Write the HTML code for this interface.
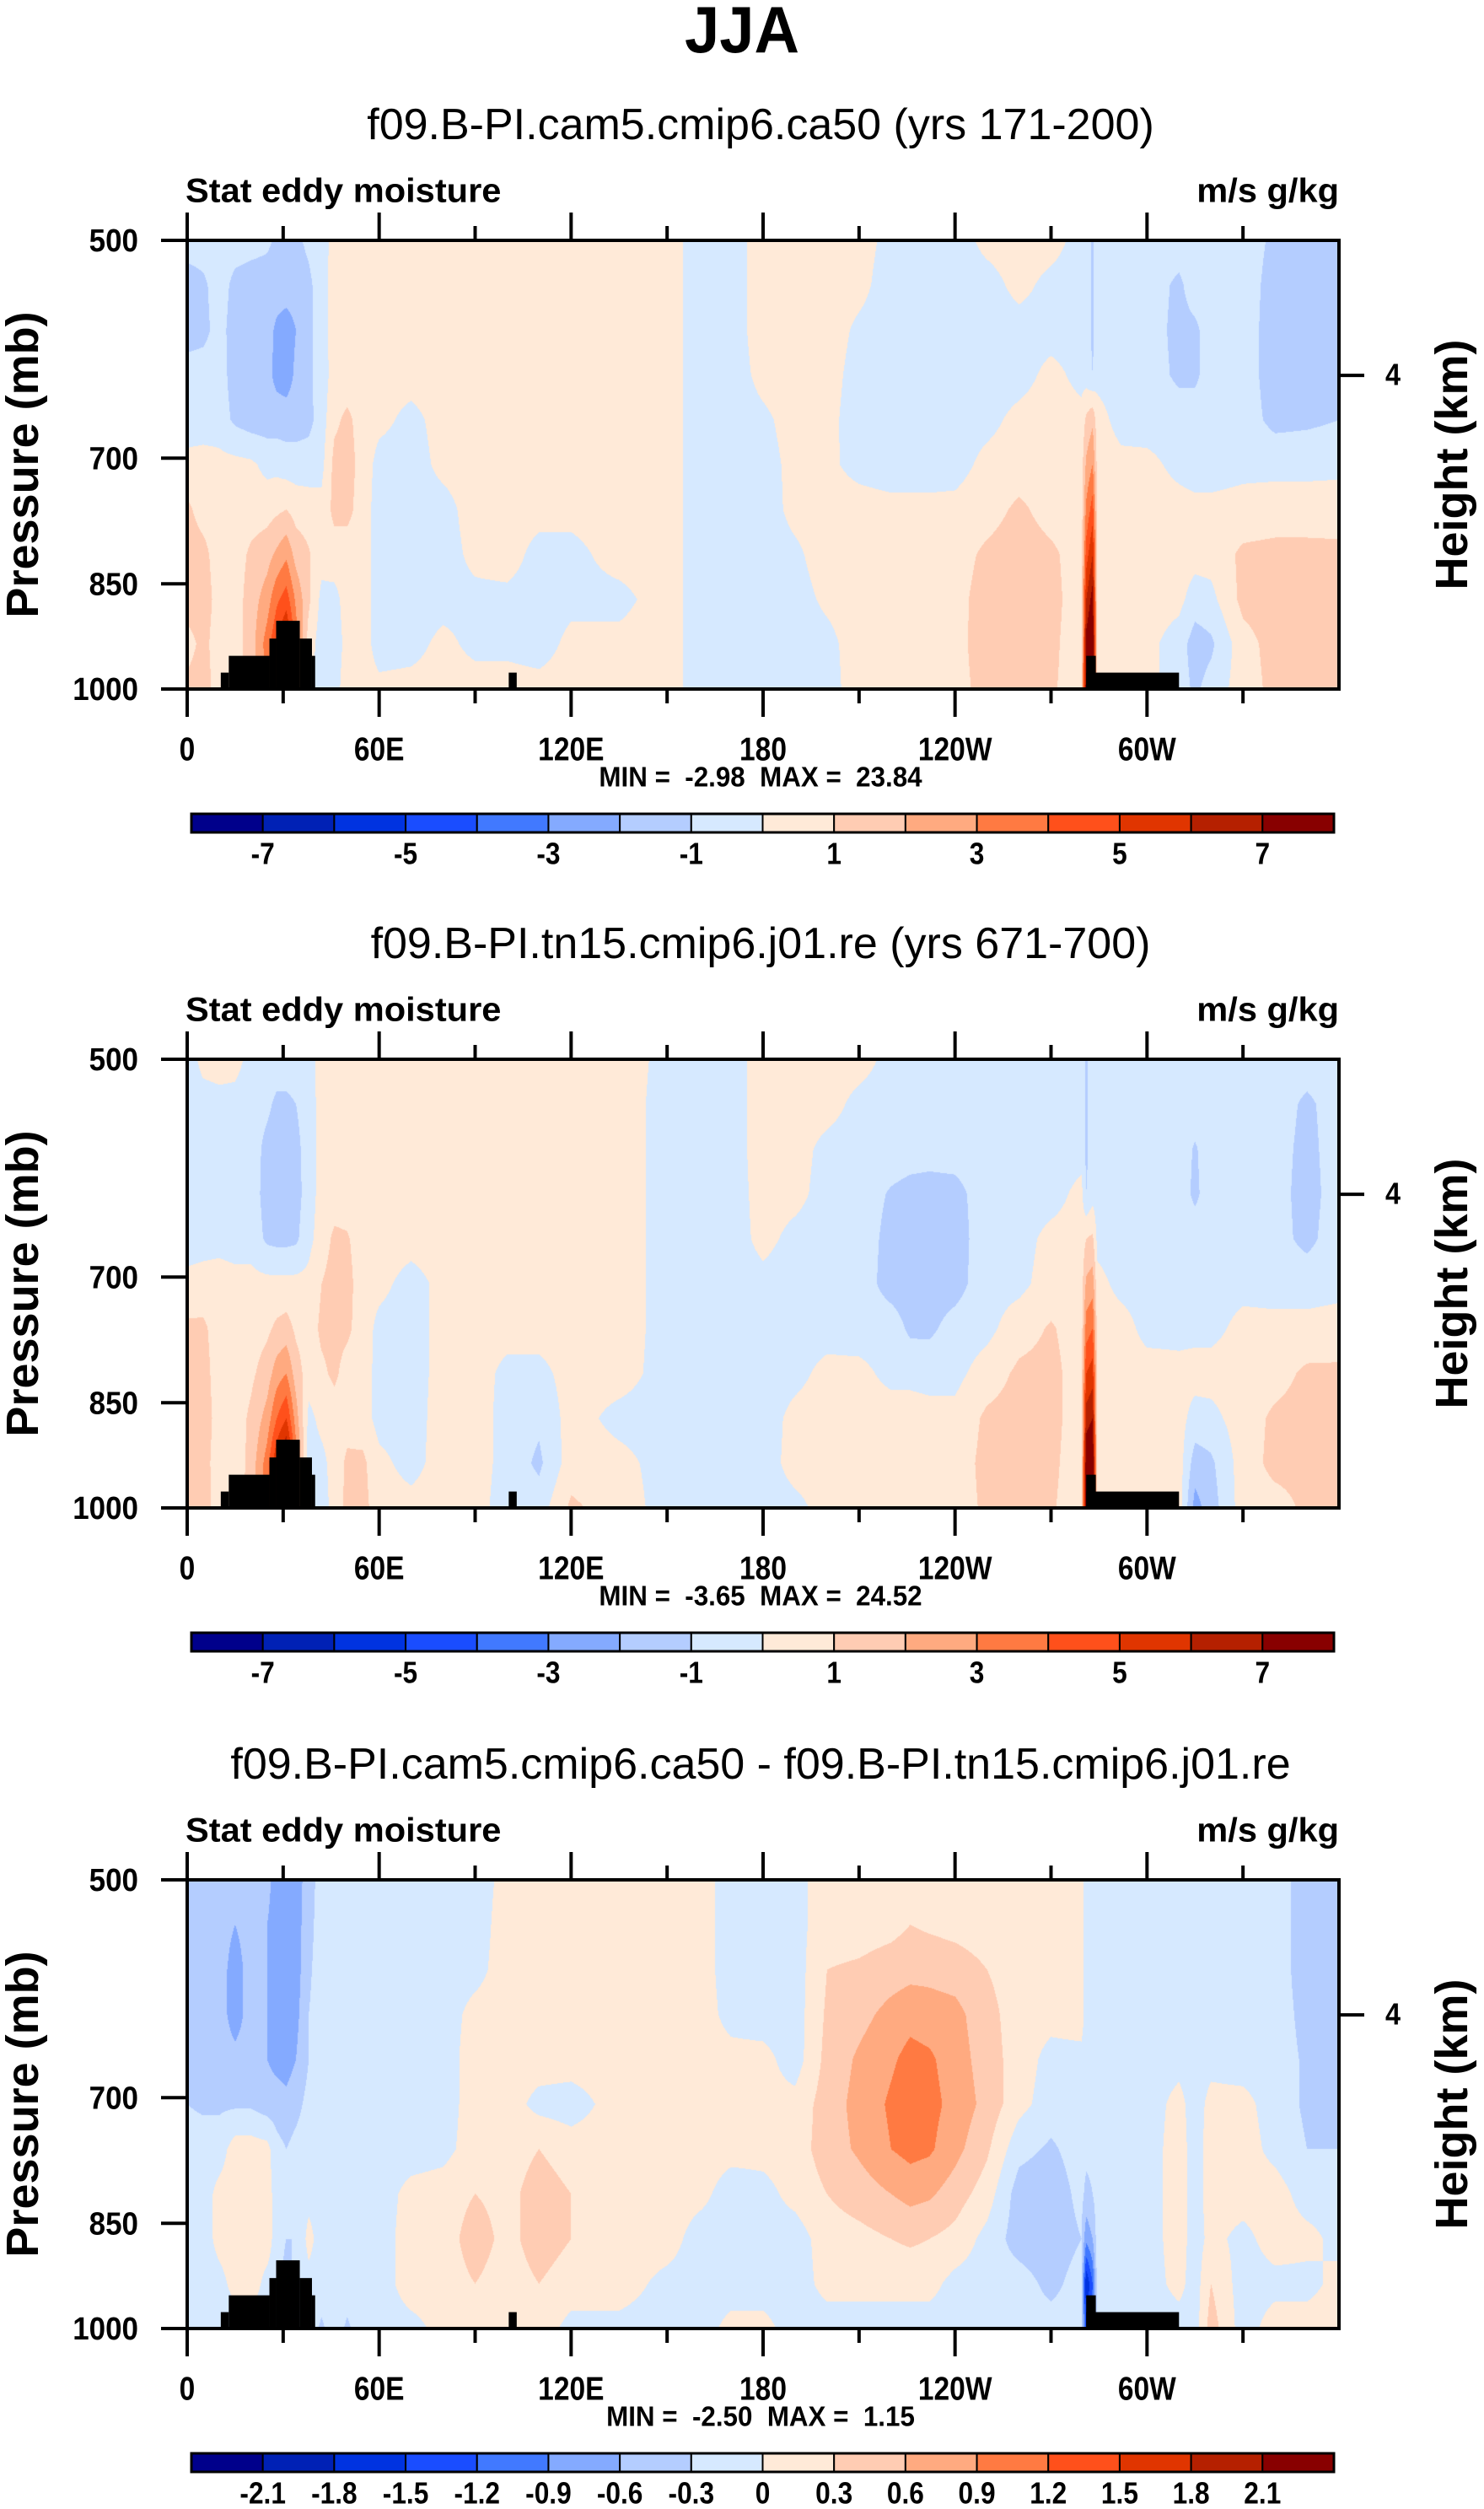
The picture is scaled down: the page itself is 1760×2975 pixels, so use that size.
<!DOCTYPE html>
<html><head><meta charset="utf-8">
<style>
html,body{margin:0;padding:0;background:#fff;}
#wrap{position:relative;width:1760px;height:2975px;overflow:hidden;background:#fff;}
canvas{position:absolute;}
svg{position:absolute;left:0;top:0;}
text{font-family:"Liberation Sans",sans-serif;fill:#000;}
</style></head>
<body>
<div id="wrap">
<svg id="svg" width="1760" height="2975"></svg>
</div>
<script>
// ---------------- data ----------------
const lons = [0,5,10,15,20,25,28,31,34,38,42,46,50,55,60,70,80,90,100,110,120,135,150,160,170,180,190,200,210,220,226,232,240,250,260,270,279.5,281,283,284.5,292,300,310,315,320,330,340,350,360];
const levelFrac = [0,0.1,0.2,0.3,0.4,0.5,0.6,0.7,0.8,0.9,1.0];
const xTickLabels = ["0","60E","120E","180","120W","60W"];
const pTicks = [500,700,850,1000];
const heightTicks = [4];
const heightTickP = [616];
const topoStart = [10.5,13,25.7,27.8,35.2,39,100.5,281,281];
const topoEnd   = [13,25.7,27.8,35.2,39,40,103,284,310];
const topoTopP  = [975,950,925,900,925,950,975,950,975];
const cbLabels1 = ["-7","","-5","","-3","","-1","","1","","3","","5","","7"];
const cbLabels3 = ["-2.1","-1.8","-1.5","-1.2","-0.9","-0.6","-0.3","0","0.3","0.6","0.9","1.2","1.5","1.8","2.1"];
const levels1 = [-7,-6,-5,-4,-3,-2,-1,0,1,2,3,4,5,6,7];
const levels3 = [-2.1,-1.8,-1.5,-1.2,-0.9,-0.6,-0.3,0,0.3,0.6,0.9,1.2,1.5,1.8,2.1];
const titles = ["f09.B-PI.cam5.cmip6.ca50 (yrs 171-200)","f09.B-PI.tn15.cmip6.j01.re (yrs 671-700)","f09.B-PI.cam5.cmip6.ca50 - f09.B-PI.tn15.cmip6.j01.re"];
const minVals = ["-2.98","-3.65","-2.50"];
const maxVals = ["23.84","24.52","1.15"];

const field1 = [
[-0.5,-1.5,-1.5,-0.5,-0.5,0.3,1.2,1.5,1.5,0.6,1.3],
[-0.5,-1.2,-1.3,-0.5,-0.5,0.4,0.6,1.3,1.5,1.3,1.5],
[-0.5,-0.5,-0.6,-0.5,-0.5,0.3,0.5,0.5,0.6,0.5,0.5],
[-0.5,-1.3,-1.5,-1.5,-1.2,0.3,0.5,0.5,0.5,0.5,0.5],
[-0.6,-1.5,-1.5,-1.5,-1.5,0.2,0.5,1.2,1.5,1.5,1.5],
[-0.8,-1.5,-1.6,-1.7,-1.5,-0.3,0.6,1.6,2.5,3.5,3],
[-1.2,-1.5,-2.2,-2.3,-1.5,-0.3,0.8,2.2,3.8,5,5],
[-1.2,-1.5,-2.5,-2.5,-1.5,-0.5,1.0,2.8,4.5,6.5,6.5],
[-1.2,-1.5,-2.0,-1.8,-1.5,-0.5,0.6,1.6,2.8,3.5,3.5],
[-0.8,-1.2,-1.2,-1.2,-1.3,-0.5,0.5,1.1,1.2,0.5,0.3],
[-0.5,-0.5,-0.5,-0.5,-0.5,-0.3,0.3,0.4,-0.3,-0.5,-0.5],
[0.4,0.5,0.5,0.4,0.8,1.3,1.3,0.5,-0.3,-0.5,-0.4],
[0.5,0.5,0.5,0.5,1.2,1.4,1.3,0.5,0.4,0.3,0.5],
[0.5,0.5,0.5,0.5,0.6,0.6,0.5,0.5,0.5,0.5,0.5],
[0.5,0.5,0.5,0.4,0.3,-0.4,-0.5,-0.5,-0.5,-0.5,0.3],
[0.5,0.5,0.5,0.4,-0.3,-0.5,-0.5,-0.5,-0.5,-0.4,0.4],
[0.5,0.5,0.5,0.5,0.4,0.3,-0.4,-0.5,-0.4,0.3,0.5],
[0.5,0.5,0.5,0.5,0.5,0.5,0.5,0.3,-0.3,-0.3,0.5],
[0.5,0.5,0.5,0.5,0.5,0.5,0.5,0.5,-0.3,-0.3,0.5],
[0.5,0.5,0.5,0.5,0.5,0.5,0.4,-0.4,-0.5,-0.5,0.4],
[0.5,0.5,0.5,0.5,0.5,0.5,0.3,-0.3,-0.3,0.3,0.5],
[0.5,0.5,0.5,0.5,0.5,0.5,0.5,0.4,-0.3,0.3,0.5],
[0.5,0.5,0.5,0.5,0.5,0.5,0.5,0.5,0.5,0.5,0.5],
[-0.5,-0.5,-0.5,-0.5,-0.5,-0.5,-0.5,-0.5,-0.5,-0.5,-0.5],
[-0.5,-0.5,-0.5,-0.5,-0.5,-0.5,-0.5,-0.5,-0.5,-0.5,-0.5],
[0.5,0.5,0.5,0.3,-0.2,-0.4,-0.5,-0.5,-0.5,-0.5,-0.5],
[0.5,0.5,0.5,0.5,0.4,0.3,0.3,-0.2,-0.4,-0.5,-0.5],
[0.5,0.5,0.5,0.4,0.3,0.2,0.4,0.5,0.2,-0.3,-0.4],
[0.4,0.3,-0.2,-0.4,-0.5,-0.3,0.4,0.5,0.5,0.5,0.5],
[-0.3,-0.5,-0.5,-0.5,-0.5,-0.5,0.3,0.5,0.5,0.5,0.5],
[-0.5,-0.5,-0.5,-0.5,-0.5,-0.5,0.3,0.5,0.5,0.5,0.5],
[-0.5,-0.5,-0.5,-0.5,-0.5,-0.5,0.3,0.5,0.5,0.5,0.5],
[-0.5,-0.5,-0.5,-0.5,-0.5,-0.4,0.3,0.6,0.7,0.8,0.8],
[0.3,-0.4,-0.5,-0.5,-0.3,0.3,0.6,1.2,1.4,1.3,1.2],
[0.5,0.3,-0.4,-0.4,0.3,0.5,1.2,1.5,1.6,1.5,1.3],
[0.4,-0.3,-0.4,0.3,0.5,0.5,0.6,1.2,1.3,1.2,1.1],
[-0.4,-0.5,-0.4,-0.3,0.3,0.5,0.5,0.5,0.5,0.5,0.6],
[-0.5,-0.5,-0.5,-0.5,1.2,2.2,3.2,4.5,6,7.5,8],
[-1.2,-1.2,-1.2,-1.0,1.8,3,4.5,6,7.5,8.5,9],
[-0.5,-0.5,-0.5,-0.3,0.4,0.6,0.6,0.5,0.5,0.5,0.5],
[-0.5,-0.5,-0.5,-0.5,-0.4,0.3,0.4,0.5,0.5,0.5,0.5],
[-0.5,-0.5,-0.5,-0.5,-0.5,0.3,0.5,0.5,0.5,0.3,0.3],
[-0.5,-1.2,-1.3,-1.2,-0.5,-0.3,0.4,0.5,0.3,-0.5,-0.5],
[-0.5,-0.5,-1.2,-1.2,-0.5,-0.5,0.3,0.4,-0.5,-1.5,-1.2],
[-0.5,-0.5,-0.5,-0.5,-0.5,-0.5,0.3,0.4,-0.3,-1.2,-0.6],
[-0.5,-0.5,-0.5,-0.5,-0.5,-0.3,0.4,1.2,1.3,0.6,0.5],
[-1.2,-1.4,-1.5,-1.5,-1.3,-0.3,0.5,1.3,1.5,1.4,1.3],
[-1.5,-1.5,-1.5,-1.5,-1.2,-0.3,0.5,1.3,1.5,1.5,1.4],
[-1.4,-1.5,-1.5,-1.4,-1.0,-0.3,0.6,1.2,1.4,1.4,1.3]
];
const field2 = [
[-0.5,-0.5,-0.5,-0.5,-0.5,0.3,1.2,1.5,1.5,1.5,1.5],
[0.3,-0.4,-0.5,-0.5,-0.4,0.4,1.2,1.4,1.5,1.4,1.5],
[0.4,-0.3,-0.5,-0.5,-0.3,0.4,0.5,0.5,0.6,0.5,0.5],
[0.3,-0.3,-0.5,-0.5,-0.4,0.3,0.5,0.5,0.5,0.3,0.5],
[-0.3,-0.5,-0.5,-0.5,-0.4,0.3,0.5,0.8,1.2,1.4,1.5],
[-0.5,-0.8,-1.3,-1.4,-1.2,0.3,0.8,1.5,2.4,3.5,3.5],
[-0.5,-1.2,-1.5,-1.5,-1.3,0.3,1.2,2.5,4,6,6],
[-0.5,-1.2,-1.5,-1.5,-1.3,0.3,1.4,3,5,7.5,7.5],
[-0.5,-1.0,-1.3,-1.4,-1.2,0.3,0.8,1.5,2.5,3.5,3.5],
[-0.4,-0.5,-0.5,-0.5,-0.3,0.3,0.5,0.5,-0.3,-0.5,-0.5],
[0.4,0.4,0.4,0.4,0.5,1.0,1.2,0.8,0.3,-0.3,-0.4],
[0.5,0.5,0.5,0.5,1.2,1.4,1.3,1.2,0.5,0.4,0.3],
[0.5,0.5,0.5,0.5,1.1,1.3,1.2,0.6,0.6,1.2,1.3],
[0.5,0.5,0.5,0.5,0.5,0.5,0.5,0.5,0.5,1.2,1.3],
[0.5,0.5,0.5,0.5,0.5,0.3,-0.3,-0.4,-0.4,0.3,0.5],
[0.5,0.5,0.5,0.5,0.4,-0.4,-0.5,-0.5,-0.5,-0.4,0.4],
[0.5,0.5,0.5,0.5,0.5,0.3,0.4,0.4,0.5,0.5,0.5],
[0.5,0.5,0.5,0.5,0.5,0.5,0.5,0.5,0.5,0.5,0.4],
[0.5,0.5,0.5,0.5,0.5,0.5,0.4,-0.3,-0.4,-0.4,-0.5],
[0.5,0.5,0.5,0.5,0.5,0.5,0.4,-0.3,-0.8,-1.2,-0.5],
[0.5,0.5,0.5,0.5,0.5,0.5,0.5,0.4,0.4,0.5,1.2],
[0.5,0.5,0.5,0.5,0.5,0.5,0.5,0.4,-0.3,0.3,0.5],
[-0.3,-0.4,-0.4,-0.4,-0.4,-0.4,-0.4,-0.4,-0.4,-0.4,-0.4],
[-0.5,-0.5,-0.5,-0.5,-0.5,-0.5,-0.5,-0.5,-0.5,-0.5,-0.5],
[-0.5,-0.5,-0.5,-0.5,-0.5,-0.5,-0.5,-0.5,-0.5,-0.5,-0.5],
[0.5,0.5,0.5,0.4,0.3,-0.3,-0.5,-0.5,-0.5,-0.5,-0.5],
[0.5,0.5,0.4,0.3,-0.3,-0.5,-0.4,-0.3,0.3,0.4,-0.3],
[0.5,0.4,-0.3,-0.4,-0.5,-0.5,-0.4,0.3,0.5,0.5,0.4],
[0.4,-0.3,-0.5,-0.5,-0.5,-0.5,-0.5,0.3,0.5,0.5,0.5],
[-0.3,-0.5,-0.5,-1.1,-1.3,-1.4,-0.5,-0.3,0.5,0.5,0.5],
[-0.3,-0.5,-0.6,-1.3,-1.5,-1.5,-1.2,-0.3,0.5,0.5,0.5],
[-0.3,-0.5,-0.6,-1.4,-1.5,-1.5,-1.2,-0.4,0.4,0.5,0.5],
[-0.3,-0.5,-0.6,-1.3,-1.4,-1.4,-0.6,-0.3,0.3,0.5,0.5],
[-0.5,-0.5,-0.5,-0.5,-0.5,-0.4,-0.3,0.5,1.2,1.3,1.2],
[-0.5,-0.5,-0.5,-0.5,-0.4,-0.3,0.6,1.2,1.4,1.4,1.3],
[-0.4,-0.5,-0.5,-0.4,0.3,0.5,1.1,1.3,1.3,1.2,1.1],
[-0.5,-0.5,-0.4,0.3,0.4,0.5,0.5,0.5,0.5,0.5,0.5],
[-1.2,-1.2,-1.2,-1.0,1.0,2.2,3.5,5,6.5,8,8],
[-0.5,-0.5,-0.5,-0.4,1.2,2.5,4,5.5,7,8.5,9],
[-0.5,-0.5,-0.5,-0.5,-0.3,0.3,0.5,0.5,0.5,0.5,0.5],
[-0.5,-0.5,-0.5,-0.5,-0.5,-0.3,0.4,0.5,0.5,0.5,0.5],
[-0.5,-0.5,-0.5,-0.5,-0.5,-0.4,-0.3,0.4,0.5,0.5,0.5],
[-0.5,-0.5,-0.5,-0.5,-0.5,-0.4,-0.3,0.3,0.4,0.5,0.5],
[-0.5,-0.5,-1.1,-1.2,-0.5,-0.5,-0.3,0.4,-0.4,-1.5,-2.4],
[-0.5,-0.5,-0.5,-0.5,-0.5,-0.4,-0.3,0.4,-0.3,-1.2,-1.5],
[-0.5,-0.5,-0.5,-0.5,-0.5,-0.3,0.3,0.5,0.5,0.5,0.5],
[-0.5,-0.5,-0.6,-0.6,-0.6,-0.4,0.3,0.6,1.2,1.3,0.6],
[-0.5,-1.2,-1.3,-1.4,-1.3,-0.4,0.3,1.2,1.4,1.3,1.2],
[-0.5,-0.5,-0.5,-0.5,-0.4,-0.3,0.4,1.2,1.4,1.4,1.3]
];
const field3 = [
[-0.45,-0.45,-0.45,-0.45,-0.45,-0.3,-0.15,-0.15,-0.15,-0.15,-0.15],
[-0.45,-0.45,-0.45,-0.45,-0.45,-0.35,-0.15,-0.15,-0.15,-0.15,-0.15],
[-0.45,-0.45,-0.45,-0.45,-0.45,-0.35,-0.15,0.1,0.1,-0.1,-0.15],
[-0.45,-0.6,-0.75,-0.75,-0.5,-0.35,0.15,0.15,0.15,0.1,-0.15],
[-0.45,-0.45,-0.45,-0.45,-0.45,-0.35,0.15,0.15,0.15,0.15,-0.15],
[-0.5,-0.6,-0.6,-0.6,-0.6,-0.45,0.1,0.15,0.15,-0.1,-0.15],
[-0.75,-0.75,-0.75,-0.75,-0.7,-0.45,-0.2,-0.15,-0.15,-0.15,-0.15],
[-0.8,-0.8,-0.8,-0.8,-0.75,-0.5,-0.3,-0.15,-0.3,-0.45,-0.2],
[-0.75,-0.75,-0.75,-0.7,-0.6,-0.4,-0.2,-0.15,-0.3,-0.2,-0.15],
[-0.45,-0.4,-0.35,-0.3,-0.3,-0.2,-0.15,-0.1,0.1,-0.1,-0.15],
[-0.15,-0.15,-0.15,-0.15,-0.15,-0.15,-0.15,-0.15,-0.15,-0.15,-0.35],
[-0.15,-0.15,-0.15,-0.15,-0.15,-0.15,-0.15,-0.15,-0.15,-0.15,-0.15],
[-0.15,-0.15,-0.15,-0.15,-0.15,-0.15,-0.15,-0.15,-0.15,-0.15,-0.35],
[-0.15,-0.15,-0.15,-0.15,-0.15,-0.15,-0.15,-0.15,-0.15,-0.15,-0.15],
[-0.15,-0.15,-0.15,-0.15,-0.15,-0.15,-0.15,-0.15,-0.15,-0.15,-0.15],
[-0.15,-0.15,-0.15,-0.15,-0.15,-0.15,-0.15,0.1,0.15,0.15,-0.1],
[-0.15,-0.15,-0.15,-0.15,-0.15,-0.15,-0.1,0.15,0.15,0.15,0.1],
[-0.15,-0.15,-0.1,0.1,0.15,0.15,0.15,0.3,0.45,0.3,0.15],
[0.1,0.15,0.15,0.15,0.15,0.15,0.15,0.2,0.2,0.15,0.15],
[0.15,0.15,0.15,0.15,0.15,-0.1,0.3,0.45,0.45,0.3,0.15],
[0.15,0.15,0.15,0.15,0.15,-0.15,0.15,0.3,0.3,0.15,-0.1],
[0.15,0.15,0.15,0.15,0.15,0.15,0.15,0.15,0.15,0.15,-0.1],
[0.15,0.15,0.15,0.15,0.15,0.15,0.15,0.15,0.15,-0.1,-0.15],
[0.15,0.15,0.15,0.15,0.15,0.15,0.15,0.1,-0.15,-0.15,-0.15],
[-0.15,-0.15,-0.15,-0.1,0.1,0.15,0.1,-0.15,-0.15,-0.15,0.1],
[-0.15,-0.15,-0.15,-0.15,0.1,0.1,0.1,-0.1,-0.15,-0.15,0.1],
[-0.1,-0.1,-0.15,-0.15,-0.15,0.1,0.15,0.1,-0.15,-0.15,-0.15],
[0.15,0.15,0.3,0.35,0.4,0.45,0.45,0.3,0.15,0.1,-0.15],
[0.15,0.15,0.35,0.5,0.65,0.7,0.65,0.45,0.2,0.1,-0.15],
[0.15,0.2,0.45,0.7,0.85,0.95,0.9,0.6,0.3,0.1,-0.15],
[0.15,0.3,0.5,0.8,1.0,1.1,1.0,0.7,0.35,0.1,-0.15],
[0.15,0.25,0.5,0.75,0.95,1.0,0.95,0.65,0.3,0.1,-0.15],
[0.15,0.2,0.45,0.7,0.75,0.8,0.7,0.45,0.2,-0.1,-0.15],
[0.1,0.15,0.3,0.4,0.45,0.5,0.35,0.15,-0.1,-0.15,-0.15],
[0.15,0.15,0.15,0.15,0.15,0.1,-0.2,-0.45,-0.45,-0.15,-0.15],
[0.15,0.15,0.15,0.1,-0.1,-0.15,-0.35,-0.5,-0.5,-0.4,-0.15],
[0.15,0.15,0.15,0.15,-0.1,-0.15,-0.15,-0.2,-0.3,-0.15,-0.15],
[-0.15,-0.15,-0.15,-0.15,-0.15,-0.15,-0.2,-0.4,-0.8,-1.8,-1.5],
[-0.15,-0.15,-0.15,-0.15,-0.15,-0.15,-0.2,-0.3,-0.6,-1.2,-1.0],
[-0.15,-0.15,-0.15,-0.15,-0.15,-0.15,-0.15,-0.15,-0.15,-0.15,-0.15],
[-0.15,-0.15,-0.15,-0.15,-0.15,-0.15,-0.15,-0.15,-0.15,-0.15,-0.15],
[-0.15,-0.15,-0.15,-0.15,-0.15,-0.15,-0.15,-0.15,-0.15,-0.15,-0.15],
[-0.15,-0.15,-0.15,-0.15,-0.1,0.1,0.15,0.15,0.15,0.1,-0.15],
[-0.15,-0.15,-0.15,-0.15,-0.15,-0.15,-0.15,-0.15,-0.15,-0.15,-0.15],
[-0.15,-0.15,-0.15,-0.15,-0.1,0.1,0.15,0.15,0.1,0.3,0.45],
[-0.15,-0.15,-0.15,-0.15,-0.15,0.1,0.15,0.15,-0.1,-0.15,-0.15],
[-0.15,-0.15,-0.15,-0.15,-0.15,-0.15,-0.1,0.15,0.15,-0.1,0.15],
[-0.45,-0.45,-0.45,-0.4,-0.35,-0.35,-0.3,-0.15,0.1,-0.1,0.15],
[-0.45,-0.45,-0.45,-0.45,-0.45,-0.45,-0.3,-0.15,-0.1,0.1,0.15]
];
const palette = ['#00008b','#0021b5','#0033e0','#1a4dff','#4179ff','#84aaff','#b4cdff','#d6e9ff','#ffead8','#ffccb3','#ffaa80','#ff7a42','#ff501b','#e03500','#b52000','#880000'];

// ---------------- layout ----------------
const X0 = 222, PW = 1366, PH = 532;
const panelTops = [285, 1256, 2229];
const NS = 'http://www.w3.org/2000/svg';
const svg = document.getElementById('svg');
const wrap = document.getElementById('wrap');

function el(tag, attrs, parent) {
  const e = document.createElementNS(NS, tag);
  for (const k in attrs) e.setAttribute(k, attrs[k]);
  (parent || svg).appendChild(e);
  return e;
}
function txt(str, x, y, size, weight, anchor, sx, parent) {
  const t = el('text', {'font-size': size, 'font-weight': weight, 'text-anchor': anchor, 'dominant-baseline': 'central',
    transform: 'translate(' + x + ',' + y + ') scale(' + sx + ',1)'}, parent);
  t.textContent = str;
  t.setAttribute('xml:space', 'preserve');
  t.style.whiteSpace = 'pre';
  return t;
}
function xScale(lon) { return X0 + lon / 360 * PW; }
function yScale(T, p) { return T + PH * Math.log(p / 500) / Math.LN2; }
function hexRGB(h) { return [parseInt(h.slice(1,3),16), parseInt(h.slice(3,5),16), parseInt(h.slice(5,7),16)]; }
const palRGB = palette.map(hexRGB);

const mt = txt('JJA', 880, 36, 78, 'bold', 'middle', 0.95);



function drawPanel(i, field, levels, cbLabels) {
  const T = panelTops[i];
  const g = el('g', {});
  
  

  const cv = document.createElement('canvas');
  cv.width = PW; cv.height = PH;
  cv.style.left = X0 + 'px'; cv.style.top = T + 'px';
  
  
  wrap.insertBefore(cv, svg);
  const ctx = cv.getContext('2d');
  const img = ctx.createImageData(PW, PH);
  const nL = lons.length, nR = levelFrac.length;
  const colIdx = new Int32Array(PW), colW = new Float32Array(PW);
  for (let px = 0; px < PW; px++) {
    const lon = (px + 0.5) / PW * 360;
    let k = 0; while (k < nL - 2 && lons[k + 1] < lon) k++;
    colIdx[px] = k; colW[px] = (lon - lons[k]) / (lons[k + 1] - lons[k]);
  }
  for (let py = 0; py < PH; py++) {
    const f = (py + 0.5) / PH;
    let r = 0; while (r < nR - 2 && levelFrac[r + 1] < f) r++;
    const wr = (f - levelFrac[r]) / (levelFrac[r + 1] - levelFrac[r]);
    for (let px = 0; px < PW; px++) {
      const k = colIdx[px], wc = colW[px];
      const a = field[k][r], b = field[k + 1][r], c = field[k][r + 1], d = field[k + 1][r + 1];
      const v = (a * (1 - wc) + b * wc) * (1 - wr) + (c * (1 - wc) + d * wc) * wr;
      let bin = 0; while (bin < levels.length && v >= levels[bin]) bin++;
      const col = palRGB[bin];
      const o = (py * PW + px) * 4;
      img.data[o] = col[0]; img.data[o + 1] = col[1]; img.data[o + 2] = col[2]; img.data[o + 3] = 255;
    }
  }
  ctx.putImageData(img, 0, 0);

  for (let j = 0; j < topoStart.length; j++) {
    const yTop = yScale(T, topoTopP[j]);
    const r = el('rect', {x: xScale(topoStart[j]), y: yTop, width: xScale(topoEnd[j]) - xScale(topoStart[j]), height: T + PH - yTop, fill: '#000'}, g);
    
    
  }

  const fr = el('rect', {x: X0, y: T, width: PW, height: PH, fill: 'none', stroke: '#000', 'stroke-width': 4}, g);
  
  

  for (let lon = 0; lon < 360; lon += 30) {
    const major = lon % 60 === 0;
    const len = major ? 33 : 17;
    const x = xScale(lon);
    const t1 = el('line', {x1: x, x2: x, y1: T + PH, y2: T + PH + len, stroke: '#000', 'stroke-width': 4}, g);
    
    
    const t2 = el('line', {x1: x, x2: x, y1: T, y2: T - len, stroke: '#000', 'stroke-width': 4}, g);
    
    
    if (major) {
      const lb = txt(xTickLabels[lon / 60], x, T + 603, 39, 'bold', 'middle', 0.86, g);
      
      
    }
  }
  pTicks.forEach(p => {
    const y = yScale(T, p);
    const t = el('line', {x1: X0 - 31, x2: X0, y1: y, y2: y, stroke: '#000', 'stroke-width': 4}, g);
    
    
    const lb = txt(String(p), 164, y, 38, 'bold', 'end', 0.92, g);
    
    
  });
  heightTickP.forEach((p, j) => {
    const y = yScale(T, p);
    const t = el('line', {x1: X0 + PW, x2: X0 + PW + 30, y1: y, y2: y, stroke: '#000', 'stroke-width': 4}, g);
    
    
    const lb = txt(String(heightTicks[j]), 1652, y, 36, 'bold', 'middle', 0.9, g);
    
    
  });

  const st = txt(titles[i], 902, T - 137, 52, 'normal', 'middle', 1.0, g);
  
  
  const ls = txt('Stat eddy moisture', 220, T - 59, 40, 'bold', 'start', 1.04, g);
  
  
  const rs = txt('m/s g/kg', 1588, T - 59, 40, 'bold', 'end', 1.04, g);
  
  

  const yl = el('text', {'font-size': 54, 'font-weight': 'bold', 'text-anchor': 'middle', 'dominant-baseline': 'central',
    transform: 'translate(27,' + (T + 266) + ') rotate(-90)'}, g);
  yl.textContent = 'Pressure (mb)';
  
  
  const yr = el('text', {'font-size': 54, 'font-weight': 'bold', 'text-anchor': 'middle', 'dominant-baseline': 'central',
    transform: 'translate(1722,' + (T + 266) + ') rotate(-90)'}, g);
  yr.textContent = 'Height (km)';
  
  

  const mm = txt('MIN =  ' + minVals[i] + '  MAX =  ' + maxVals[i], 902, T + 636, 33, 'bold', 'middle', 0.95, g);
  
  

  const cbX0 = 227, cbX1 = 1582, cbY = T + 680, cbH = 22;
  const bw = (cbX1 - cbX0) / palette.length;
  palette.forEach((c, j) => {
    const r = el('rect', {x: cbX0 + j * bw, y: cbY, width: bw, height: cbH, fill: c, stroke: '#000', 'stroke-width': 2}, g);
    
    
  });
  const cbf = el('rect', {x: cbX0, y: cbY, width: cbX1 - cbX0, height: cbH, fill: 'none', stroke: '#000', 'stroke-width': 3}, g);
  
  
  cbLabels.forEach((s, j) => {
    if (!s) return;
    const lb = txt(s, cbX0 + (j + 1) * bw, T + 728, 36, 'bold', 'middle', 0.88, g);
    
    
  });
}

drawPanel(0, field1, levels1, cbLabels1);
drawPanel(1, field2, levels1, cbLabels1);
drawPanel(2, field3, levels3, cbLabels3);
</script>
</body></html>
